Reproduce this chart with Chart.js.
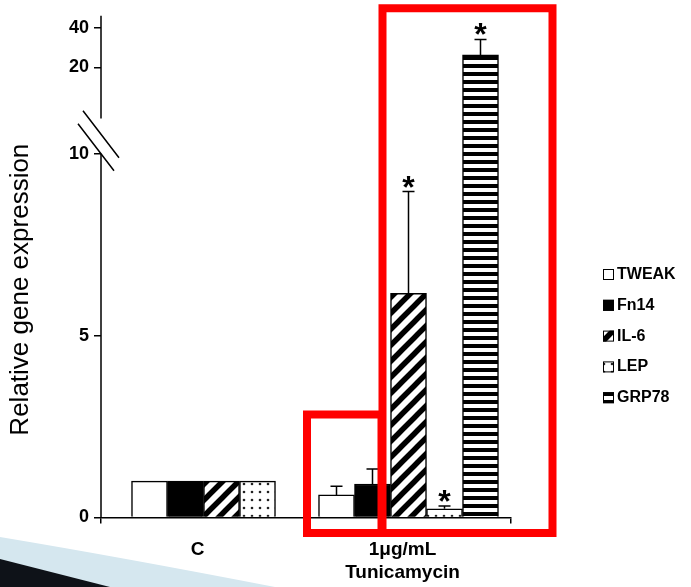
<!DOCTYPE html>
<html lang="en">
<head>
  <meta charset="UTF-8" />
  <title>Relative gene expression</title>
  <script src="https://cdn.jsdelivr.net/npm/chart.js"></script>
  <style>
    html, body {
      margin: 0;
      padding: 0;
      background: #fff;
    }
    #chart-container {
      position: relative;
      width: 691px;
      height: 587px;
    }
  </style>
</head>
<body>
  <div id="chart-container">
    <canvas id="barChart"></canvas>
  </div>

  <script>
    // groups on the x axis
    const categories = ['C', ['1μg/mL', 'Tunicamycin']];
    const genes = ['TWEAK', 'Fn14', 'IL-6', 'LEP', 'GRP78'];

    // mean relative expression: [C, Tunicamycin]
    const tweakValues = [1.0, 0.62];
    const fn14Values = [1.0, 0.92];
    const il6Values = [1.0, 6.16];
    const lepValues = [1.0, 0.24];
    const grp78Values = [null, 26.3];

    // upper error bars
    const tweakErr = [0, 0.24];
    const fn14Err = [0, 0.41];
    const il6Err = [0, 2.8];
    const lepErr = [0, 0.075];
    const grp78Err = [0, 7.8];

    // significance stars
    const tweakSig = [false, false];
    const fn14Sig = [false, false];
    const il6Sig = [false, true];
    const lepSig = [false, true];
    const grp78Sig = [false, true];

    const yTicks = [0, 5, 10, 20, 40];

    const seriesValues = [tweakValues, fn14Values, il6Values, lepValues, grp78Values];
    const seriesErr = [tweakErr, fn14Err, il6Err, lepErr, grp78Err];
    const seriesSig = [tweakSig, fn14Sig, il6Sig, lepSig, grp78Sig];

    const FONT = '"Liberation Sans", Arial, Helvetica, sans-serif';

    // broken y axis: 0-10 linear, gap, then 20-46 compressed
    const Y_MAX = 46;
    const axisSegments = [
      { from: 0, to: 10, start: 0, end: 0.725 },
      { from: 10, to: 20, start: 0.725, end: 0.897 },
      { from: 20, to: Y_MAX, start: 0.897, end: 1 }
    ];

    function valueToDecimal(v) {
      for (const s of axisSegments) {
        if (v <= s.to) return s.start + (v - s.from) / (s.to - s.from) * (s.end - s.start);
      }
      return 1;
    }

    function decimalToValue(d) {
      for (const s of axisSegments) {
        if (d <= s.end) return s.from + (d - s.start) / (s.end - s.start) * (s.to - s.from);
      }
      return Y_MAX;
    }

    class BrokenLinearScale extends Chart.LinearScale {
      getPixelForValue(value) {
        if (value === null || value === undefined) return NaN;
        return this.getPixelForDecimal(valueToDecimal(value));
      }
      getValueForPixel(pixel) {
        return decimalToValue(this.getDecimalForPixel(pixel));
      }
    }
    BrokenLinearScale.id = 'brokenLinear';
    BrokenLinearScale.defaults = Chart.LinearScale.defaults;
    Chart.register(BrokenLinearScale);

    // fill patterns
    function makePattern(size, draw) {
      const c = document.createElement('canvas');
      c.width = size;
      c.height = size;
      const g = c.getContext('2d');
      g.fillStyle = '#fff';
      g.fillRect(0, 0, size, size);
      draw(g, size);
      return g.createPattern(c, 'repeat');
    }

    const ctx = document.getElementById('barChart').getContext('2d');

    const diagonal = makePattern(16, (g, s) => {
      g.strokeStyle = '#000';
      g.lineWidth = 5.5;
      g.beginPath();
      for (const k of [-1, 0, 1]) {
        g.moveTo(k * s - 4, s + 4);
        g.lineTo(k * s + s + 4, -4);
      }
      g.stroke();
    });

    const dots = makePattern(8, (g) => {
      g.fillStyle = '#222';
      g.beginPath();
      g.arc(4, 4, 1.3, 0, Math.PI * 2);
      g.fill();
    });

    const stripes = makePattern(8, (g, s) => {
      g.fillStyle = '#000';
      g.fillRect(0, 0, s, 4);
    });

    const fills = ['#fff', '#000', diagonal, dots, stripes];

    const datasets = genes.map((gene, i) => ({
      label: gene,
      data: seriesValues[i],
      backgroundColor: fills[i],
      borderColor: '#000',
      borderWidth: 1.5,
      barThickness: 36,
      skipNull: true
    }));

    // background swoosh in the lower-left corner
    const swooshPlugin = {
      id: 'swoosh',
      beforeDraw(chart) {
        const c = chart.ctx;
        const h = chart.height;
        c.save();
        c.fillStyle = '#d5e7ef';
        c.beginPath();
        c.moveTo(0, h - 50);
        c.quadraticCurveTo(120, h - 30, 275, h);
        c.lineTo(0, h);
        c.closePath();
        c.fill();
        c.fillStyle = '#0e1218';
        c.beginPath();
        c.moveTo(0, h - 28);
        c.lineTo(110, h);
        c.lineTo(0, h);
        c.closePath();
        c.fill();
        c.restore();
      }
    };

    // error bars, stars, broken y axis line, legend, title and callout boxes
    const decorPlugin = {
      id: 'decor',
      afterDatasetsDraw(chart) {
        const c = chart.ctx;
        const y = chart.scales.y;
        c.save();
        c.strokeStyle = '#000';
        c.lineWidth = 1.5;
        chart.data.datasets.forEach((ds, di) => {
          const meta = chart.getDatasetMeta(di);
          meta.data.forEach((bar, i) => {
            const v = ds.data[i];
            if (v === null || v === undefined) return;
            const e = seriesErr[di][i];
            let top = bar.y;
            if (e > 0) {
              top = y.getPixelForValue(v + e);
              c.beginPath();
              c.moveTo(bar.x, bar.y);
              c.lineTo(bar.x, top);
              c.moveTo(bar.x - 6, top);
              c.lineTo(bar.x + 6, top);
              c.stroke();
            }
            if (seriesSig[di][i]) {
              // center the star glyph about 10px above the cap
              c.fillStyle = '#000';
              c.font = 'bold 32px ' + FONT;
              c.textAlign = 'center';
              c.textBaseline = 'alphabetic';
              const m = c.measureText('*');
              const mid = (m.actualBoundingBoxAscent - m.actualBoundingBoxDescent) / 2;
              c.fillText('*', bar.x, top - 10 + mid);
            }
          });
        });
        c.restore();
      },
      afterDraw(chart) {
        const c = chart.ctx;
        const y = chart.scales.y;
        const area = chart.chartArea;
        const ax = area.left;
        c.save();

        // y axis line with a break between 10 and 20
        c.strokeStyle = '#000';
        c.lineWidth = 1.5;
        c.beginPath();
        c.moveTo(ax, y.getPixelForValue(0));
        c.lineTo(ax, y.getPixelForValue(10));
        c.moveTo(ax, y.getPixelForValue(14.1));
        c.lineTo(ax, area.top);
        c.stroke();
        const p10 = y.getPixelForValue(10);
        c.beginPath();
        c.moveTo(ax - 18, p10 - 43);
        c.lineTo(ax + 18, p10 + 4);
        c.moveTo(ax - 23, p10 - 30);
        c.lineTo(ax + 13, p10 + 17);
        c.stroke();

        // y axis title
        c.fillStyle = '#000';
        c.font = '26px ' + FONT;
        c.textAlign = 'center';
        c.textBaseline = 'middle';
        c.translate(21, (area.top + area.bottom) / 2 + 23);
        c.rotate(-Math.PI / 2);
        c.fillText('Relative gene expression', 0, 0);
        c.setTransform(1, 0, 0, 1, 0, 0);

        // legend
        const lx = 603;
        const ly = 274.5;
        const step = 30.8;
        chart.data.datasets.forEach((ds, i) => {
          const cy = ly + i * step;
          c.fillStyle = ds.backgroundColor;
          c.fillRect(lx, cy - 5.5, 11, 11);
          c.lineWidth = 1;
          c.strokeStyle = '#000';
          c.strokeRect(lx + 0.5, cy - 5, 10, 10);
          c.fillStyle = '#000';
          c.font = 'bold 16px ' + FONT;
          c.textAlign = 'left';
          c.textBaseline = 'middle';
          c.fillText(ds.label, lx + 14, cy);
        });

        // red callout boxes around the Tunicamycin bars
        const tw = chart.getDatasetMeta(0).data[1];
        const il = chart.getDatasetMeta(2).data[1];
        const gr = chart.getDatasetMeta(4).data[1];
        const ilLeft = il.x - il.width / 2;
        c.strokeStyle = '#ff0000';
        c.lineWidth = 8;
        c.beginPath();
        c.rect(ilLeft - 8, area.top - 7.5, (gr.x + gr.width / 2 + 54) - (ilLeft - 8), area.bottom + 15.5 - (area.top - 7.5));
        c.stroke();
        const twLeft = tw.x - tw.width / 2 - 11.5;
        c.beginPath();
        c.rect(twLeft, area.bottom - 103, (ilLeft - 9) - twLeft, 118.5);
        c.stroke();

        c.restore();
      }
    };

    const chart = new Chart(ctx, {
      type: 'bar',
      data: {
        labels: categories,
        datasets: datasets
      },
      options: {
        responsive: true,
        maintainAspectRatio: false,
        animation: false,
        layout: {
          padding: { top: 14, right: 180, bottom: 0, left: 0 }
        },
        plugins: {
          legend: { display: false },
          tooltip: { enabled: false }
        },
        scales: {
          x: {
            offset: true,
            grid: {
              drawOnChartArea: false,
              offset: true,
              tickLength: 6,
              color: '#000',
              lineWidth: 1.5
            },
            border: { display: true, color: '#000', width: 1.5 },
            ticks: {
              color: '#000',
              font: { family: FONT, weight: 'bold', size: 19, lineHeight: 1.25 },
              padding: 14,
              labelOffset: -6,
              maxRotation: 0,
              autoSkip: false
            },
            afterFit: (s) => { s.height = 69.5; }
          },
          y: {
            type: 'brokenLinear',
            min: 0,
            max: Y_MAX,
            afterBuildTicks: (s) => { s.ticks = yTicks.map(v => ({ value: v })); },
            grid: {
              drawOnChartArea: false,
              tickLength: 7,
              color: '#000',
              lineWidth: 1.5
            },
            border: { display: false },
            ticks: {
              color: '#000',
              font: { family: FONT, weight: 'bold', size: 18 },
              padding: 5
            },
            afterFit: (s) => { s.width = 101; }
          }
        }
      },
      plugins: [swooshPlugin, decorPlugin]
    });
  </script>
</body>
</html>
